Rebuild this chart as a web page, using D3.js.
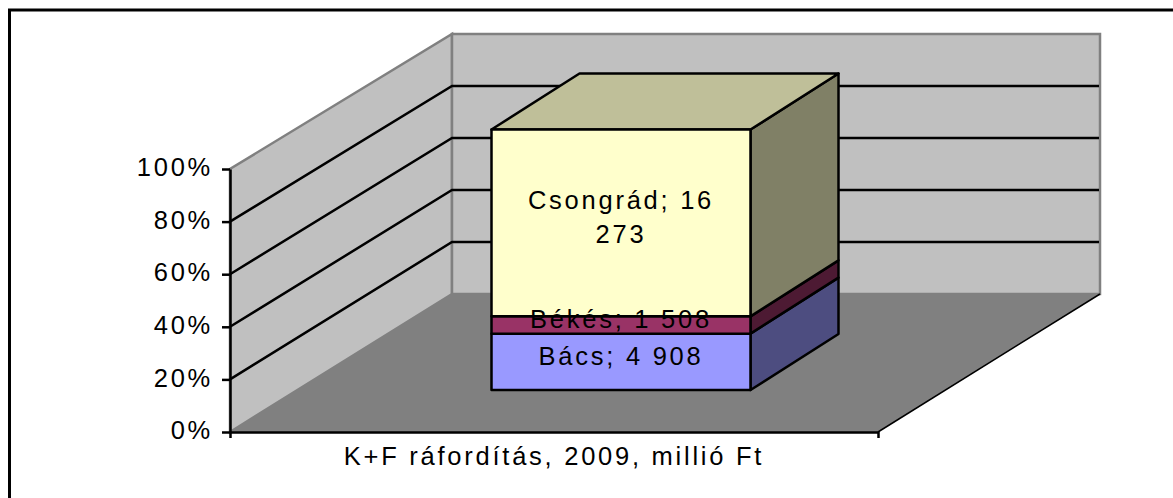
<!DOCTYPE html>
<html>
<head>
<meta charset="utf-8">
<script src="https://cdn.jsdelivr.net/npm/d3@7"></script>
<style>
  html, body { margin: 0; padding: 0; background: #fff; overflow: hidden; }
  svg { display: block; }
  text { font-family: "Liberation Sans", Arial, sans-serif; font-size: 25.5px; letter-spacing: 2.75px; fill: #000; }
  .axis path, .axis line { stroke: #000; stroke-width: 2.5px; }
</style>
</head>
<body>
<div id="chart"></div>
<script>
const categories = ["K+F ráfordítás, 2009, millió Ft"];
const seriesNames = ["Bács", "Békés", "Csongrád"];
const seriesValues = [4908, 1508, 16273];
const seriesLabels = [["Bács; 4 908"], ["Békés; 1 508"], ["Csongrád; 16", "273"]];
const frontColors = ["#9999ff", "#993366", "#ffffcc"];
const sideColors = ["#4d4d80", "#4d1a33", "#808066"];
const topColor = "#bfbf99";
const yTicks = [0, 0.2, 0.4, 0.6, 0.8, 1];

const width = 1173;
const height = 498;

const svg = d3.select("#chart").append("svg")
  .attr("width", width)
  .attr("height", height);

// front and back planes of the 3d box
const plot = { left: 230, right: 878, depthX: 222 };
const yFront = d3.scaleLinear().domain([0, 1]).range([432, 169]);
const yBack = d3.scaleLinear().domain([0, 1]).range([294, 34]);
const x = d3.scaleBand().domain(categories).range([plot.left, plot.right]);

// the bar sits a bit inside the box, it has its own front plane
const yBar = d3.scaleLinear().domain([0, 1]).range([390, 129.5]);
const barX = d3.scaleLinear().domain([0, 1]).range([491.5, 750.5]);
const barDepth = { x: 88, y: -56 };

const row = {};
seriesNames.forEach((s, i) => { row[s] = seriesValues[i]; });
const stacked = d3.stack().keys(seriesNames).offset(d3.stackOffsetExpand)([row]);

const poly = (pts) => pts.map((p) => p.join(",")).join(" ");
const backLeft = plot.left + plot.depthX;
const backRight = plot.right + plot.depthX;

// outer frame, only top and left are visible
svg.append("path")
  .attr("d", `M9.5,${height} V10 H${width}`)
  .attr("fill", "none")
  .attr("stroke", "#000")
  .attr("stroke-width", 3);

// walls and floor
svg.append("polygon")
  .attr("points", poly([[plot.left, yFront(0)], [plot.left, yFront(1)], [backLeft, yBack(1)], [backLeft, yBack(0)]]))
  .attr("fill", "#c0c0c0").attr("stroke", "#808080").attr("stroke-width", 2.5);

svg.append("polygon")
  .attr("points", poly([[backLeft, yBack(0)], [backLeft, yBack(1)], [backRight, yBack(1)], [backRight, yBack(0)]]))
  .attr("fill", "#c0c0c0").attr("stroke", "#808080").attr("stroke-width", 2.5);

svg.append("polygon")
  .attr("points", poly([[plot.left, yFront(0)], [plot.right, yFront(0)], [backRight, yBack(0)], [backLeft, yBack(0)]]))
  .attr("fill", "#808080");

svg.append("line")
  .attr("x1", plot.right).attr("y1", yFront(0))
  .attr("x2", backRight).attr("y2", yBack(0))
  .attr("stroke", "#000").attr("stroke-width", 1.5);

// gridlines
svg.selectAll(".grid")
  .data(yTicks.slice(1, -1))
  .enter()
  .append("polyline")
  .attr("class", "grid")
  .attr("points", (d) => poly([[plot.left, yFront(d)], [backLeft, yBack(d)], [backRight - 1, yBack(d)]]))
  .attr("fill", "none")
  .attr("stroke", "#000")
  .attr("stroke-width", 2.5);

// axes
svg.append("g")
  .attr("class", "axis")
  .attr("transform", `translate(${plot.left},0)`)
  .call(d3.axisLeft(yFront).tickValues(yTicks).tickFormat(d3.format(".0%")).tickSizeInner(8).tickSizeOuter(0).tickPadding(9))
  .call((g) => g.selectAll("text").attr("font-size", null).attr("font-family", null).attr("dy", "0.26em"));

svg.append("g")
  .attr("class", "axis")
  .attr("transform", `translate(0,${yFront(0)})`)
  .call(d3.axisBottom(x).tickSizeInner(0).tickSizeOuter(6).tickPadding(15))
  .call((g) => g.selectAll("text").attr("font-size", null).attr("font-family", null));

// bar
const bar = svg.append("g")
  .attr("stroke", "#000")
  .attr("stroke-width", 2.5)
  .attr("stroke-linejoin", "round");

bar.selectAll(".side")
  .data(stacked)
  .enter()
  .append("polygon")
  .attr("class", "side")
  .attr("points", (s) => {
    const y0 = yBar(s[0][0]);
    const y1 = yBar(s[0][1]);
    const xr = barX(1);
    return poly([[xr, y0], [xr, y1], [xr + barDepth.x, y1 + barDepth.y], [xr + barDepth.x, y0 + barDepth.y]]);
  })
  .attr("fill", (s) => sideColors[s.index]);

bar.append("polygon")
  .attr("points", poly([
    [barX(0), yBar(1)],
    [barX(1), yBar(1)],
    [barX(1) + barDepth.x, yBar(1) + barDepth.y],
    [barX(0) + barDepth.x, yBar(1) + barDepth.y]
  ]))
  .attr("fill", topColor);

bar.selectAll(".front")
  .data(stacked)
  .enter()
  .append("rect")
  .attr("class", "front")
  .attr("x", barX(0))
  .attr("y", (s) => yBar(s[0][1]))
  .attr("width", barX(1) - barX(0))
  .attr("height", (s) => yBar(s[0][0]) - yBar(s[0][1]))
  .attr("fill", (s) => frontColors[s.index]);

// data labels
const lineHeight = 34;
svg.selectAll(".label")
  .data(stacked)
  .enter()
  .append("text")
  .attr("class", "label")
  .attr("text-anchor", "middle")
  .each(function (s) {
    const lines = seriesLabels[s.index];
    const mid = yBar((s[0][0] + s[0][1]) / 2) + 3;
    d3.select(this).selectAll("tspan")
      .data(lines)
      .enter()
      .append("tspan")
      .attr("x", (barX(0) + barX(1)) / 2)
      .attr("y", (d, i) => mid + (i - (lines.length - 1) / 2) * lineHeight)
      .text((d) => d);
  });
</script>
</body>
</html>
